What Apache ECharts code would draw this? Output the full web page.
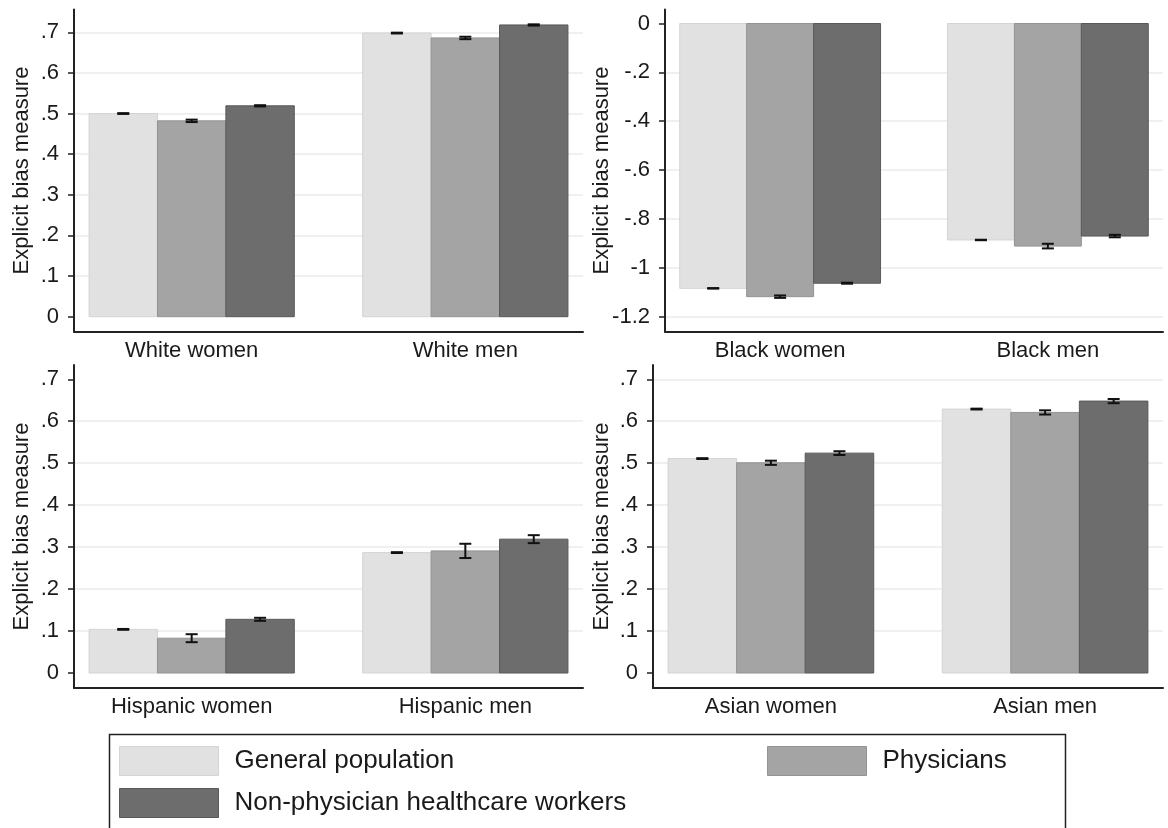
<!DOCTYPE html>
<html>
<head>
<meta charset="utf-8">
<script src="https://cdn.jsdelivr.net/npm/echarts@6/dist/echarts.min.js"></script>
<style>
  html, body { margin: 0; padding: 0; background: #ffffff; }
  #chart { width: 1168px; height: 828px; }
</style>
</head>
<body>
<div id="chart"></div>
<script>
// Respondent groups (one bar per group inside each category)
const groupNames = ['General population', 'Physicians', 'Non-physician healthcare workers'];

// Tick values and their printed labels
const posTickValues = [0, 0.1, 0.2, 0.3, 0.4, 0.5, 0.6, 0.7];
const posTickLabels = ['0', '.1', '.2', '.3', '.4', '.5', '.6', '.7'];
const negTickValues = [0, -0.2, -0.4, -0.6, -0.8, -1, -1.2];
const negTickLabels = ['0', '-.2', '-.4', '-.6', '-.8', '-1', '-1.2'];

// White targets: means and half-widths of the confidence intervals
const whiteCats = ['White women', 'White men'];
const whiteGeneral = [0.500, 0.698];
const whitePhysicians = [0.482, 0.686];
const whiteNonPhysicians = [0.519, 0.718];
const whiteGeneralCI = [0.001, 0.001];
const whitePhysiciansCI = [0.003, 0.003];
const whiteNonPhysiciansCI = [0.0015, 0.0015];

// Black targets
const blackCats = ['Black women', 'Black men'];
const blackGeneral = [-1.084, -0.886];
const blackPhysicians = [-1.118, -0.911];
const blackNonPhysicians = [-1.063, -0.870];
const blackGeneralCI = [0.001, 0.001];
const blackPhysiciansCI = [0.005, 0.0095];
const blackNonPhysiciansCI = [0.002, 0.005];

// Hispanic targets
const hispanicCats = ['Hispanic women', 'Hispanic men'];
const hispanicGeneral = [0.104, 0.287];
const hispanicPhysicians = [0.083, 0.291];
const hispanicNonPhysicians = [0.128, 0.319];
const hispanicGeneralCI = [0.001, 0.001];
const hispanicPhysiciansCI = [0.0095, 0.017];
const hispanicNonPhysiciansCI = [0.0036, 0.0095];

// Asian targets
const asianCats = ['Asian women', 'Asian men'];
const asianGeneral = [0.511, 0.629];
const asianPhysicians = [0.501, 0.621];
const asianNonPhysicians = [0.524, 0.648];
const asianGeneralCI = [0.001, 0.001];
const asianPhysiciansCI = [0.005, 0.005];
const asianNonPhysiciansCI = [0.0045, 0.005];

// Gridline positions per panel
const whiteGridValues = [0.1, 0.2, 0.3, 0.4, 0.5, 0.6, 0.7];
const blackGridValues = [-0.2, -0.4, -0.6, -0.8, -1, -1.2];
const hispanicGridValues = [0.1, 0.2, 0.3, 0.4, 0.5, 0.6];
const asianGridValues = [0.1, 0.2, 0.3, 0.4, 0.5, 0.6, 0.7];

const FONT = '"Liberation Sans", Arial, Helvetica, sans-serif';
const TEXT_COLOR = '#1a1a1a';
const AXIS_COLOR = '#222222';
const fills = ['#e1e1e1', '#a4a4a4', '#6d6d6d'];
const strokes = ['#d4d4d4', '#939393', '#595959'];

const panels = [
  { cats: whiteCats, means: [whiteGeneral, whitePhysicians, whiteNonPhysicians],
    cis: [whiteGeneralCI, whitePhysiciansCI, whiteNonPhysiciansCI],
    ticks: posTickValues, labels: posTickLabels, grid: whiteGridValues,
    yMin: -0.0364, yMax: 0.756, box: { left: 74, top: 9.5, width: 509, height: 322 }, nameGap: 41 },
  { cats: blackCats, means: [blackGeneral, blackPhysicians, blackNonPhysicians],
    cis: [blackGeneralCI, blackPhysiciansCI, blackNonPhysiciansCI],
    ticks: negTickValues, labels: negTickLabels, grid: blackGridValues,
    yMin: -1.2606, yMax: 0.0573, box: { left: 665, top: 9.5, width: 498, height: 322 }, nameGap: 52 },
  { cats: hispanicCats, means: [hispanicGeneral, hispanicPhysicians, hispanicNonPhysicians],
    cis: [hispanicGeneralCI, hispanicPhysiciansCI, hispanicNonPhysiciansCI],
    ticks: posTickValues, labels: posTickLabels, grid: hispanicGridValues,
    yMin: -0.0357, yMax: 0.734, box: { left: 74, top: 365, width: 509, height: 323 }, nameGap: 41 },
  { cats: asianCats, means: [asianGeneral, asianPhysicians, asianNonPhysicians],
    cis: [asianGeneralCI, asianPhysiciansCI, asianNonPhysiciansCI],
    ticks: posTickValues, labels: posTickLabels, grid: asianGridValues,
    yMin: -0.0357, yMax: 0.734, box: { left: 653, top: 365, width: 510, height: 323 }, nameGap: 40 }
];

// Bars span a quarter of the category spacing each; groups are 0.75 wide.
const BAR_W = 0.25;

function barRenderer(slot) {
  return function (params, api) {
    const c = api.value(0);
    const v = api.value(1);
    const x0 = c - 1.5 * BAR_W + slot * BAR_W;
    const p0 = api.coord([x0, v]);
    const p1 = api.coord([x0 + BAR_W, 0]);
    return {
      type: 'rect',
      shape: {
        x: Math.min(p0[0], p1[0]),
        y: Math.min(p0[1], p1[1]),
        width: Math.abs(p1[0] - p0[0]),
        height: Math.abs(p1[1] - p0[1])
      },
      style: { fill: fills[slot], stroke: strokes[slot], lineWidth: 1 }
    };
  };
}

function ciRenderer(slot) {
  return function (params, api) {
    const c = api.value(0);
    const xc = c - BAR_W + slot * BAR_W;
    const hi = api.coord([xc, api.value(2)]);
    const lo = api.coord([xc, api.value(1)]);
    const hw = 6;
    const st = { stroke: '#111111', lineWidth: 2 };
    return {
      type: 'group',
      children: [
        { type: 'line', shape: { x1: hi[0], y1: hi[1], x2: lo[0], y2: lo[1] }, style: st },
        { type: 'line', shape: { x1: hi[0] - hw, y1: hi[1], x2: hi[0] + hw, y2: hi[1] }, style: st },
        { type: 'line', shape: { x1: lo[0] - hw, y1: lo[1], x2: lo[0] + hw, y2: lo[1] }, style: st }
      ]
    };
  };
}

function labelFor(values, labels) {
  return function (v) {
    for (let i = 0; i < values.length; i++) {
      if (Math.abs(values[i] - v) < 1e-6) return labels[i];
    }
    return '';
  };
}

const grids = [];
const xAxes = [];
const yAxes = [];
const series = [];

panels.forEach(function (p, i) {
  grids.push(Object.assign({ outerBoundsMode: 'none', containLabel: false }, p.box));

  xAxes.push({
    gridIndex: i,
    type: 'value',
    min: -0.43,
    max: 1.43,
    axisLine: { show: true, onZero: false, lineStyle: { color: AXIS_COLOR, width: 2 } },
    axisTick: { show: false },
    splitLine: { show: false },
    axisLabel: {
      customValues: [0, 1],
      formatter: function (v) { return p.cats[Math.round(v)]; },
      margin: 8,
      fontSize: 22,
      fontFamily: FONT,
      color: TEXT_COLOR,
      hideOverlap: false
    }
  });

  // Visible axis: line, ticks, labels and title
  yAxes.push({
    gridIndex: i,
    type: 'value',
    position: 'left',
    min: p.yMin,
    max: p.yMax,
    axisLine: { show: true, onZero: false, lineStyle: { color: AXIS_COLOR, width: 2 } },
    axisTick: { show: true, length: 6, customValues: p.ticks, lineStyle: { color: AXIS_COLOR, width: 1.5 } },
    axisLabel: {
      customValues: p.ticks,
      formatter: labelFor(p.ticks, p.labels),
      margin: 15,
      fontSize: 22,
      fontFamily: FONT,
      color: TEXT_COLOR,
      hideOverlap: false
    },
    splitLine: { show: false },
    name: 'Explicit bias measure',
    nameLocation: 'middle',
    nameGap: p.nameGap,
    nameMoveOverlap: false,
    nameTextStyle: { fontSize: 22, fontFamily: FONT, color: TEXT_COLOR }
  });

  // Companion axis carrying only the horizontal gridlines
  yAxes.push({
    gridIndex: i,
    type: 'value',
    position: 'left',
    min: p.yMin,
    max: p.yMax,
    axisLine: { show: false },
    axisTick: { show: false, customValues: p.grid },
    axisLabel: { show: false, customValues: p.grid },
    splitLine: { show: true, lineStyle: { color: '#ebebeb', width: 1.5 } }
  });

  for (let s = 0; s < 3; s++) {
    series.push({
      type: 'custom',
      name: groupNames[s],
      xAxisIndex: i,
      yAxisIndex: 2 * i,
      renderItem: barRenderer(s),
      itemStyle: { color: fills[s], borderColor: strokes[s], borderWidth: 1 },
      encode: { x: 0, y: 1 },
      data: p.means[s].map(function (v, c) { return [c, v]; }),
      z: 2,
      silent: true
    });
  }
  for (let s = 0; s < 3; s++) {
    series.push({
      type: 'custom',
      name: 'ci-' + i + '-' + s,
      xAxisIndex: i,
      yAxisIndex: 2 * i,
      renderItem: ciRenderer(s),
      encode: { x: 0, y: [1, 2] },
      data: p.means[s].map(function (v, c) { return [c, v - p.cis[s][c], v + p.cis[s][c]]; }),
      z: 3,
      silent: true
    });
  }
});

const legendText = { fontSize: 26, fontFamily: FONT, color: TEXT_COLOR, padding: [0, 0, 0, 11] };

function legendItem(s) {
  return { name: groupNames[s], icon: 'rect', itemStyle: { color: fills[s], borderColor: strokes[s], borderWidth: 1 } };
}

const option = {
  backgroundColor: '#ffffff',
  animation: false,
  grid: grids,
  xAxis: xAxes,
  yAxis: yAxes,
  series: series,
  legend: [
    {
      orient: 'vertical',
      left: 119,
      top: 746,
      padding: 0,
      itemWidth: 99,
      itemHeight: 29,
      itemGap: 12,
      selectedMode: false,
      textStyle: legendText,
      data: [legendItem(0), legendItem(2)]
    },
    {
      orient: 'vertical',
      left: 767,
      top: 746,
      padding: 0,
      itemWidth: 99,
      itemHeight: 29,
      itemGap: 12,
      selectedMode: false,
      textStyle: legendText,
      data: [legendItem(1)]
    }
  ],
  graphic: [
    {
      type: 'rect',
      left: 107,
      top: 732,
      shape: { width: 956, height: 110 },
      style: { fill: 'none', stroke: '#222222', lineWidth: 1.5 },
      silent: true
    }
  ]
};

const chart = echarts.init(document.getElementById('chart'), null, { renderer: 'canvas' });
chart.setOption(option);
</script>
</body>
</html>
